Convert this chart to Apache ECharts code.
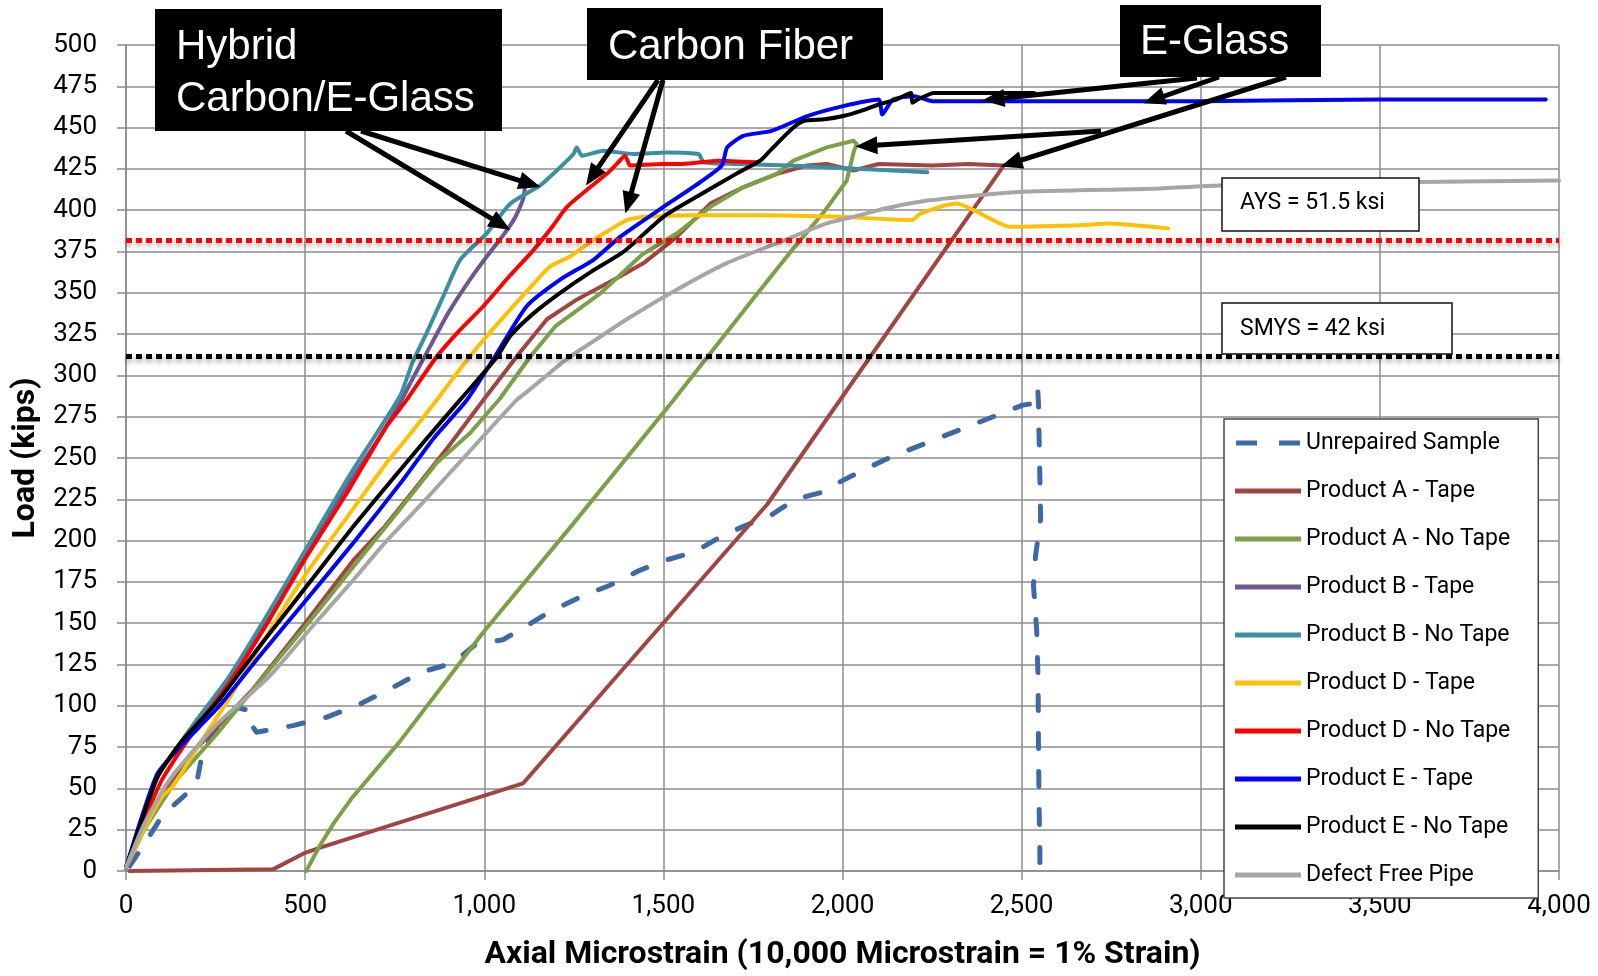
<!DOCTYPE html>
<html>
<head>
<meta charset="utf-8">
<script src="https://cdn.jsdelivr.net/npm/echarts@6/dist/echarts.min.js"></script>
<style>
html,body{margin:0;padding:0;background:#fff;}
#chart{width:1598px;height:976px;}
</style>
</head>
<body>
<div id="chart"></div>
<script>
// ---- axes ----
const xMin = 0, xMax = 4000, xStep = 500;
const yMin = 0, yMax = 500, yStep = 25;
const xAxisTitle = 'Axial Microstrain (10,000 Microstrain = 1% Strain)';
const yAxisTitle = 'Load (kips)';

// ---- reference loads (kips) ----
const aysLoad = 382;
const smysLoad = 311.5;
const aysLabel = 'AYS = 51.5 ksi';
const smysLabel = 'SMYS = 42 ksi';

// ---- series names ----
const seriesNames = ['Unrepaired Sample','Product A - Tape','Product A - No Tape','Product B - Tape','Product B - No Tape','Product D - Tape','Product D - No Tape','Product E - Tape','Product E - No Tape','Defect Free Pipe'];

// ---- series values [microstrain, kips] ----
const unrepaired = [[10,3],[47,15],[103,34],[160,45],[196,52],[205,62],[215,74],[260,88],[308,99],[347,97],[352,88],[364,84],[466,88],[559,93],[652,101],[736,110],[820,120],[913,126],[975,137],[1052,140],[1116,148],[1175,156],[1269,166],[1351,173],[1434,182],[1504,188],[1586,193],[1657,202],[1727,209],[1798,215],[1868,225],[1939,229],[1997,236],[2080,245],[2139,251],[2233,259],[2291,264],[2362,270],[2432,276],[2503,282],[2533,283],[2545,292],[2547,283],[2551,237],[2553,213],[2539,191],[2533,173],[2542,146],[2546,116],[2547,76],[2549,36],[2551,12],[2551,2]];

const productATape = [[0,2],[50,25],[121,53],[200,75],[354,110],[500,150],[634,188],[720,208],[820,235],[900,257],[997,285],[1100,314],[1175,334],[1259,346],[1320,353],[1380,360],[1445,368],[1538,384],[1631,404],[1724,414],[1817,422],[1900,427],[1956,428],[2031,424],[2101,428],[2251,427],[2351,428],[2450,427],[1790,222],[1108,53],[540,14],[500,11],[410,1],[10,0]];

const productANoTape = [[0,2],[50,25],[140,55],[250,82],[401,122],[520,153],[634,184],[750,215],[867,247],[960,265],[1044,286],[1127,311],[1200,330],[1326,350],[1440,373],[1538,386],[1631,402],[1724,414],[1817,422],[1863,430],[1956,438],[2031,442],[2040,440],[2032,436],[2012,418],[1952,400],[1852,374],[1753,347],[1528,285],[1240,208],[999,145],[763,78],[630,44],[580,29],[540,15],[503,0]];

const productBTape = [[0,2],[50,33],[88,57],[200,92],[289,117],[400,155],[503,192],[620,234],[700,260],[764,283],[800,298],[850,318],[900,338],[960,358],[1007,372],[1050,384],[1082,394],[1100,402],[1110,408],[1114,415]];

const productBNoTape = [[0,2],[50,33],[88,57],[200,92],[289,118],[400,157],[503,195],[620,238],[700,265],[766,288],[800,308],[840,326],[890,350],[933,370],[1007,386],[1073,404],[1156,415],[1212,426],[1249,434],[1258,438],[1273,433],[1333,436],[1417,434],[1510,435],[1598,434],[1613,429],[1700,428],[1852,427],[2052,425],[2237,423]];

const productDTape = [[0,2],[50,25],[100,45],[130,51],[200,75],[298,108],[400,145],[503,180],[620,215],[727,247],[784,262],[867,285],[940,306],[1000,322],[1073,340],[1140,356],[1184,366],[1240,372],[1305,382],[1350,388],[1398,394],[1445,396],[1584,397],[1770,397],[1993,396],[2193,394],[2218,398],[2318,404],[2367,400],[2467,390],[2678,391],[2740,392],[2909,389]];

const productDNoTape = [[0,2],[50,30],[100,55],[200,88],[289,114],[400,152],[503,190],[620,230],[727,269],[783,285],[866,311],[930,327],[998,342],[1070,360],[1138,376],[1190,390],[1231,402],[1296,414],[1342,422],[1370,428],[1393,433],[1408,427],[1500,428],[1553,428],[1653,430],[1760,429]];

const productETape = [[0,2],[40,30],[88,59],[150,75],[261,100],[380,132],[503,164],[640,200],[774,237],[859,262],[951,285],[1026,310],[1119,342],[1212,358],[1305,370],[1380,384],[1500,402],[1590,415],[1663,427],[1678,438],[1723,445],[1802,448],[1902,457],[2002,463],[2101,467],[2111,458],[2141,467],[2201,469],[2251,466],[2500,466],[3000,466],[3500,467],[3963,467]];

const productENoTape = [[0,2],[40,28],[88,57],[150,77],[261,104],[380,138],[503,172],[640,210],[774,245],[840,262],[932,285],[1035,311],[1073,324],[1140,338],[1212,350],[1300,363],[1390,375],[1500,396],[1600,409],[1703,422],[1770,430],[1802,437],[1863,450],[1892,454],[1950,455],[2002,457],[2050,460],[2101,464],[2150,467],[2191,471],[2195,465],[2210,467],[2255,471],[2400,471],[2535,471]];

const defectFree = [[0,2],[50,28],[121,55],[250,88],[401,118],[520,148],[634,176],[720,198],[820,221],[900,240],[980,259],[1090,285],[1119,290],[1231,310],[1300,320],[1398,334],[1538,352],[1677,368],[1817,380],[1956,392],[2049,397],[2118,401],[2243,406],[2492,411],[2865,413],[3052,415],[3608,417],[4000,418]];

const seriesData = [unrepaired, productATape, productANoTape, productBTape, productBNoTape, productDTape, productDNoTape, productETape, productENoTape, defectFree];
const seriesColors = ['#3D6AA6','#A04541','#7BA046','#6E5691','#3A8FA2','#FFC000','#FF0000','#0000FF','#000000','#A6A6A6'];
const smoothSeries = [false,false,false,true,true,true,true,true,true,true];

// ---- annotations ----
const calloutBoxes = [
  {text:'Hybrid\nCarbon/E-Glass', x:155, y:9, w:347, h:122, tx:176, ty:21},
  {text:'Carbon Fiber', x:587, y:8, w:296, h:72, tx:608, ty:21},
  {text:'E-Glass', x:1120, y:5, w:201, h:72, tx:1140, ty:16}
];
// from: pixel point on box, to: data point [microstrain, kips]
const arrowSpecs = [
  {from:[361,131], to:[1157,414]},
  {from:[346,131], to:[1073,388]},
  {from:[658,80], to:[1284,415]},
  {from:[663,80], to:[1394,398]},
  {from:[1197,78], to:[2391,466.5]},
  {from:[1219,77], to:[2840,464.7]},
  {from:[1101,131], to:[2036,438.5]},
  {from:[1286,77], to:[2441,426.4]}
];
const refBoxes = [
  {text:aysLabel, x:1222, y:178, w:197, h:53, tx:1240, ty:192},
  {text:smysLabel, x:1222, y:303, w:230, h:51, tx:1240, ty:318}
];

const gridColor = '#8c8c8c';
const chart = echarts.init(document.getElementById('chart'), null, {renderer:'canvas'});

const series = seriesNames.map((name, i) => {
  const s = {
    type:'line', name:name, data:seriesData[i], symbol:'none', showSymbol:false,
    smooth: smoothSeries[i] ? 0.2 : false, animation:false, clip:true,
    lineStyle:{color:seriesColors[i], width: i===0 ? 5 : 4, type: i===0 ? [15,23] : 'solid', cap:'round', join:'round'},
    itemStyle:{color:seriesColors[i]},
    emphasis:{disabled:true}
  };
  if (i === seriesNames.length - 1) {
    s.markLine = {
      silent:true, symbol:['none','none'], animation:false,
      label:{show:false},
      lineStyle:{width:5, type:[6,4], cap:'butt', shadowBlur:5, shadowColor:'rgba(0,0,0,0.35)', shadowOffsetY:3},
      data:[
        {yAxis:aysLoad, lineStyle:{color:'#FF0000'}},
        {yAxis:smysLoad, lineStyle:{color:'#000000'}}
      ]
    };
  }
  return s;
});

const dashedIcon = 'path://M0,0H21V5H0Z M43,0H64V5H43Z';
const legendData = seriesNames.map((n, i) => ({name:n, icon: i===0 ? dashedIcon : 'rect'}));

const option = {
  animation:false,
  backgroundColor:'#ffffff',
  grid:{left:126, right:39, top:45, bottom:104, containLabel:false},
  xAxis:{
    type:'value', min:xMin, max:xMax, interval:xStep,
    name:xAxisTitle, nameLocation:'middle', nameGap:68,
    nameTextStyle:{fontFamily:'Roboto', fontWeight:'bold', fontSize:32, color:'#000'},
    axisLine:{show:true, onZero:false, lineStyle:{color:gridColor, width:1.5}},
    axisTick:{show:true, length:9, lineStyle:{color:gridColor, width:1.5}},
    axisLabel:{fontFamily:'Roboto', fontSize:26, color:'#000', margin:22,
      formatter:v => v.toLocaleString('en-US')},
    splitLine:{show:true, lineStyle:{color:gridColor, width:1.5}}
  },
  yAxis:{
    type:'value', min:yMin, max:yMax, interval:yStep,
    name:yAxisTitle, nameLocation:'middle', nameGap:83,
    nameTextStyle:{fontFamily:'Roboto', fontWeight:'bold', fontSize:32, color:'#000'},
    axisLine:{show:true, onZero:false, lineStyle:{color:gridColor, width:1.5}},
    axisTick:{show:true, length:9, lineStyle:{color:gridColor, width:1.5}},
    axisLabel:{fontFamily:'Roboto', fontSize:26, color:'#000', margin:29, interval:0},
    splitLine:{show:true, lineStyle:{color:gridColor, width:1.5}}
  },
  legend:{
    data:legendData, orient:'vertical', left:1224, top:419,
    backgroundColor:'#ffffff', borderColor:'#444', borderWidth:1.5,
    padding:[12,28,11,11], itemWidth:66, itemHeight:5, itemGap:24,
    textStyle:{fontFamily:'Roboto', fontSize:23, color:'#000', lineHeight:24},
    selectedMode:false, z:50
  },
  series:series
};
chart.setOption(option);

// ---- annotation graphics ----
const g = [];
calloutBoxes.forEach(b => {
  g.push({type:'rect', z:100, shape:{x:b.x, y:b.y, width:b.w, height:b.h}, style:{fill:'#000'}});
  g.push({type:'text', z:101, x:b.tx, y:b.ty, style:{text:b.text, fill:'#fff', font:'42px "Liberation Sans", Arial, sans-serif', lineHeight:52, verticalAlign:'top'}});
});
refBoxes.forEach(b => {
  g.push({type:'rect', z:100, shape:{x:b.x, y:b.y, width:b.w, height:b.h}, style:{fill:'#fff', stroke:'#111', lineWidth:1.5}});
  g.push({type:'text', z:101, x:b.tx, y:b.ty, style:{text:b.text, fill:'#000', font:'23px Roboto, sans-serif', verticalAlign:'top'}});
});
const headLen = 22, headHalf = 9;
arrowSpecs.forEach(a => {
  const tip = chart.convertToPixel({xAxisIndex:0, yAxisIndex:0}, a.to);
  const dx = tip[0]-a.from[0], dy = tip[1]-a.from[1];
  const len = Math.sqrt(dx*dx+dy*dy);
  const ux = dx/len, uy = dy/len;
  const bx = tip[0]-ux*headLen, by = tip[1]-uy*headLen;
  const nx = -uy, ny = ux;
  g.push({type:'line', z:102, shape:{x1:a.from[0], y1:a.from[1], x2:bx+ux*2, y2:by+uy*2}, style:{stroke:'#000', lineWidth:5}});
  g.push({type:'polygon', z:103, shape:{points:[[tip[0],tip[1]],[bx+nx*headHalf, by+ny*headHalf],[bx-nx*headHalf, by-ny*headHalf]]}, style:{fill:'#000'}});
});
chart.setOption({graphic:g});
</script>
</body>
</html>
